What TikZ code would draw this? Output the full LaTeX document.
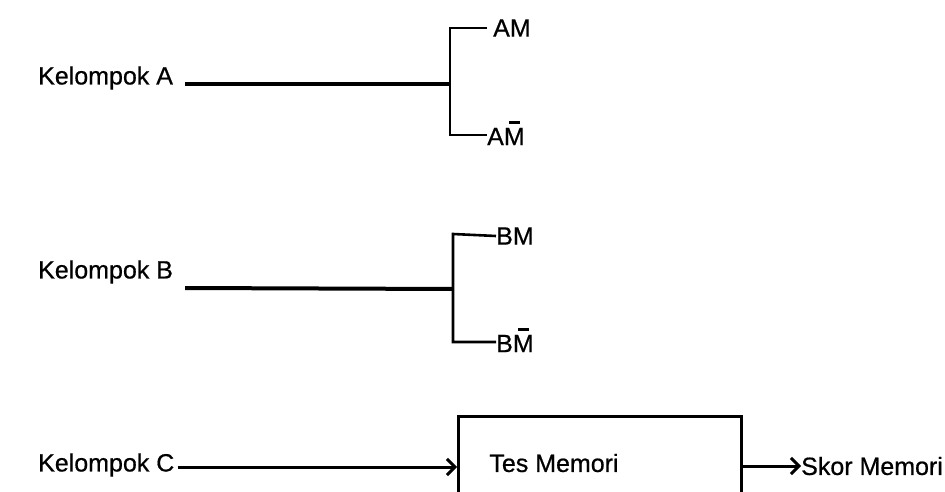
\documentclass[tikz,border=0pt]{standalone}
\usepackage{fontspec}
\setmainfont{Liberation Sans}
\newfontfamily\lblfont{Liberation Sans}[FakeBold=0.6]
\usetikzlibrary{arrows.meta}
\newcommand\mbar{\leavevmode\rlap{\kern0.22em\rule[0.84em]{0.42em}{0.13em}}M}
\tikzset{
  lbl/.style={font=\lblfont\fontsize{25}{25}\selectfont, inner sep=0pt, anchor=west},
  stem/.style={line width=3.2pt},
  brk/.style={line width=2.6pt},
  arr/.style={line width=3pt, -{Straight Barb[length=8pt,width=16pt,line width=3pt]}},
}
\begin{document}
\begin{tikzpicture}[x=1pt,y=-1pt]
\useasboundingbox (0,0) rectangle (945,492);
\begin{scope}
\clip (0,0) rectangle (945,492);
% Group A
\node[lbl] (ka) at (38,78) {Kelompok A};
\coordinate (ja) at (451,84);
\node[lbl] (am) at (493,28) {AM};
\node[lbl] (amb) at (487,133) {A\mbar};
\draw[stem] (ka.east) ++(12,6) -- (ja);
\draw[brk] (am.west) ++(-6,0) -- (450,28) -- (450,135) -- (amb.west |- 0,135);
% Group B
\node[lbl] (kb) at (38,272) {Kelompok B};
\coordinate (jb) at (453,289);
\node[lbl] (bm) at (496,236) {BM};
\node[lbl] (bmb) at (496,340) {B\mbar};
\draw[line width=4pt] (kb.east) ++(12,16) -- (jb);
\draw[brk] (bm.west) -- (453,234) -- (453,342) -- (bmb.west |- 0,342);
% Group C
\node[lbl] (kc) at (38,465) {Kelompok C};
\node[draw, line width=3pt, minimum width=283pt, minimum height=110pt, anchor=north west, inner sep=0pt] (tm) at (457,415) {};
\node[lbl, anchor=center] (tmt) at (554,463) {Tes Memori};
\node[lbl] (sk) at (801,466) {Skor Memori};
\draw[arr] (kc.east) ++(3,2) -- (tm.west |- 0,467);
\draw[arr] (tm.east |- 0,466) -- (sk.west);
\end{scope}
\end{tikzpicture}
\end{document}
